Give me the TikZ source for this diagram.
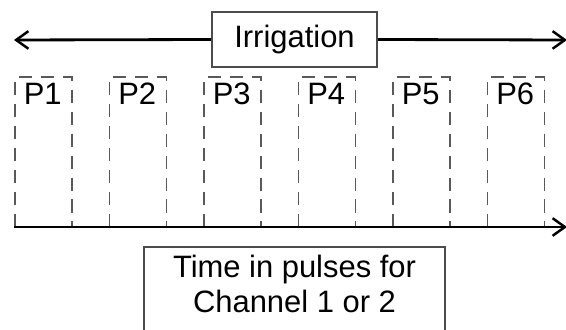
\documentclass[tikz,border=0pt]{standalone}
\usepackage{fontspec}
\setmainfont{Liberation Sans}
\usetikzlibrary{arrows.meta}

\tikzset{
  labelfont/.style={font=\fontsize{17.6}{19.9}\selectfont},
  frame/.style={draw=black!70, line width=1.1pt},
  axisline/.style={line width=1.6pt, -{Straight Barb[length=7pt,width=10pt,line width=1.4pt]}},
  pulsebox/.style={draw=black!65, line width=1.1pt, dash pattern=on 7.5pt off 5pt}
}

\begin{document}
\begin{tikzpicture}
    \useasboundingbox (0,0) rectangle (11.32,6.58);

    % Define the points
    \coordinate (LeftTip) at (0.28,5.78);
    \coordinate (RightTip) at (11.34,5.78);
    \coordinate (AxisStart) at (0.28,2.04);
    \coordinate (AxisEnd) at (11.34,2.04);

    % Irrigation span
    \node[frame, labelfont, minimum width=3.3cm, minimum height=1.1cm] (irrig) at (5.89,5.79) {Irrigation};
    \draw[axisline] (irrig.west) -- (LeftTip);
    \draw[axisline] (irrig.east) -- (RightTip);

    % Draw the pulses
    \foreach \i in {1,...,6} {
      \coordinate (B\i) at ({0.3+(\i-1)*1.89},2.04);
      \draw[pulsebox] (B\i) rectangle ++(1.14,3.0);
      \node[labelfont, anchor=north west, inner xsep=0.17cm, inner ysep=0.12cm] (P\i) at ([yshift=3.0cm]B\i) {P\i};
    }

    % Time axis
    \draw[axisline] (AxisStart) -- (AxisEnd);

    % Label the axis
    \node[labelfont, align=center, anchor=north, minimum width=6.02cm, inner ysep=0.16cm] (time) at (5.89,1.64)
      {Time in pulses for\\Channel 1 or 2};
    \draw[frame] ([yshift=-1cm]time.south west) |- (time.north east) -- ([yshift=-1cm]time.south east);

    \end{tikzpicture}
\end{document}
